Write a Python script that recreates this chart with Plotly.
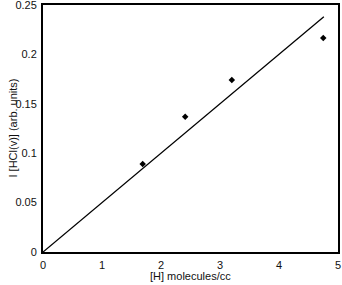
import plotly.graph_objects as go

x_data = [1.69, 2.41, 3.20, 4.75]
y_data = [0.089, 0.137, 0.174, 0.2165]
fit_x = [0, 4.76]
fit_y = [0, 0.238]

x_ticks = [0, 1, 2, 3, 4, 5]
y_ticks = [0, 0.05, 0.1, 0.15, 0.2, 0.25]
y_tick_text = ["0", "0.05", "0.1", "0.15", "0.2", "0.25"]

fig = go.Figure()
fig.add_trace(go.Scatter(x=fit_x, y=fit_y, mode="lines",
                         line=dict(color="black", width=1.3), showlegend=False))
fig.add_trace(go.Scatter(x=x_data, y=y_data, mode="markers",
                         marker=dict(symbol="diamond", size=5, color="black"),
                         showlegend=False))

font = dict(family="Liberation Sans, Arial", size=11, color="#111")
fig.update_layout(
    width=342, height=285,
    margin=dict(l=43, r=4, t=5, b=33),
    paper_bgcolor="white", plot_bgcolor="white",
    font=font,
    xaxis=dict(range=[0, 5], tickvals=x_ticks, ticktext=[str(v) for v in x_ticks],
               showgrid=False, zeroline=False, showline=True, linecolor="black",
               linewidth=2, mirror=True, ticks="outside", ticklen=2, tickcolor="white",
               automargin=False, ticklabeloverflow="allow"),
    yaxis=dict(range=[0, 0.25], tickvals=y_ticks, ticktext=y_tick_text,
               showgrid=False, zeroline=False, showline=True, linecolor="black",
               linewidth=2, mirror=True, ticks="outside", ticklen=2, tickcolor="white",
               automargin=False, ticklabeloverflow="allow"),
    annotations=[
        dict(text="[H] molecules/cc", xref="paper", yref="paper", x=0.5, y=0,
             yshift=-24, xanchor="center", yanchor="middle", showarrow=False, font=font),
        dict(text="I [HCl(v)] (arb. units)", xref="paper", yref="paper", x=0, y=0.5,
             xshift=-31, xanchor="center", yanchor="middle", textangle=-90,
             showarrow=False, font=font),
    ],
)
fig.write_html("out.html", config={"displayModeBar": False},
               post_script="document.body.style.margin='0';document.body.style.overflow='hidden';")
